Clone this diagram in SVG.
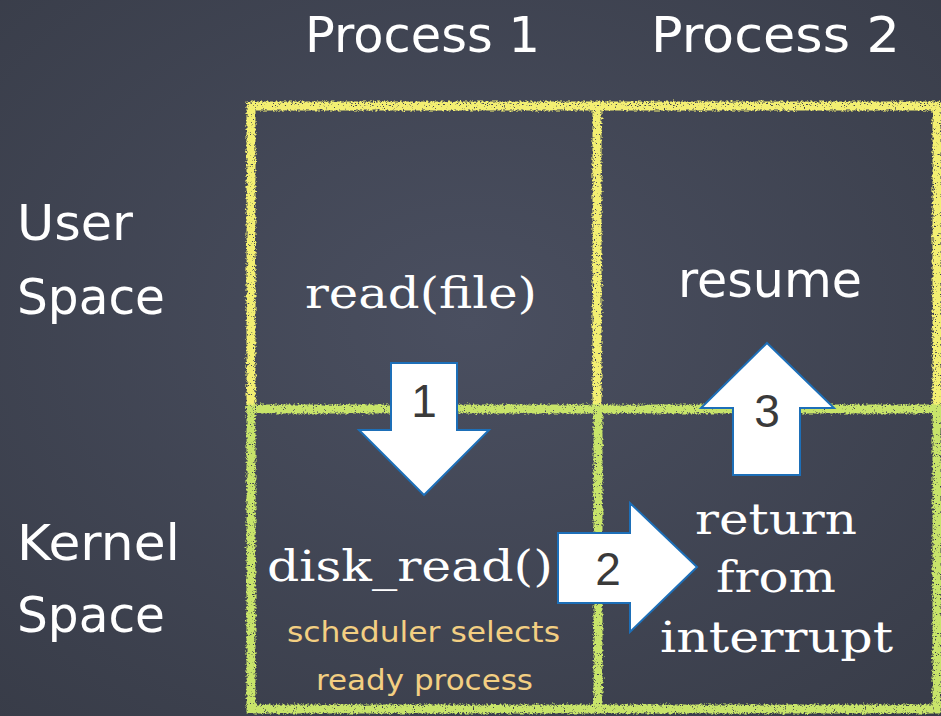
<svg xmlns="http://www.w3.org/2000/svg" width="941" height="716" viewBox="0 0 941 716">
<defs>
<radialGradient id="bg" cx="50%" cy="45%" r="75%">
<stop offset="0" stop-color="#4a4f60"/>
<stop offset="1" stop-color="#383c48"/>
</radialGradient>
<filter id="chalk" x="-5%" y="-5%" width="110%" height="110%">
<feTurbulence type="fractalNoise" baseFrequency="0.45" numOctaves="3" seed="3" result="n"/>
<feDisplacementMap in="SourceGraphic" in2="n" scale="5" xChannelSelector="R" yChannelSelector="G" result="d"/>
<feTurbulence type="fractalNoise" baseFrequency="0.9" numOctaves="1" seed="11" result="n2"/>
<feColorMatrix in="n2" type="matrix" values="0 0 0 0 0  0 0 0 0 0  0 0 0 0 0  12 0 0 0 -3.3" result="m"/>
<feComposite in="d" in2="m" operator="in"/>
</filter>
<style>
.yel{stroke:#f3ef72;stroke-width:9;fill:none;stroke-linecap:square}
.grn{stroke:#c8e46a;stroke-width:9;fill:none;stroke-linecap:square}
.hand{font-family:"DejaVu Sans","Noto Sans",sans-serif;fill:#ffffff;font-size:49px}
.slab{font-family:"DejaVu Serif","Liberation Serif",serif;fill:#ffffff;font-size:43px}
.note{font-family:"DejaVu Sans","Noto Sans",sans-serif;fill:#f3cf82;font-size:28px}
.arrow{fill:#ffffff;stroke:#1d6fb8;stroke-width:2;stroke-linejoin:miter}
.num{font-family:"Liberation Sans",Arial,sans-serif;fill:#3a3a3a;font-size:46px;text-anchor:middle}
</style>
</defs>
<rect width="941" height="716" fill="url(#bg)"/>

<g id="grid" filter="url(#chalk)">
<path class="yel" d="M251 409 V106 H937 V409 M597 106 V409"/>
<path class="grn" d="M251 409 H937 M251 409 V709 H937 V409 M598 409 V709"/>
</g>

<g id="headers">
<text class="hand" x="305" y="52" textLength="235" lengthAdjust="spacingAndGlyphs">Process 1</text>
<text class="hand" x="651" y="52" textLength="249" lengthAdjust="spacingAndGlyphs">Process 2</text>
<text class="hand" x="17" y="240" textLength="116" lengthAdjust="spacingAndGlyphs">User</text>
<text class="hand" x="17" y="314" textLength="148" lengthAdjust="spacingAndGlyphs">Space</text>
<text class="hand" x="17" y="560" textLength="163" lengthAdjust="spacingAndGlyphs">Kernel</text>
<text class="hand" x="17" y="632" textLength="148" lengthAdjust="spacingAndGlyphs">Space</text>
</g>

<g id="p1-user">
<text class="slab" x="305" y="308" textLength="232" lengthAdjust="spacingAndGlyphs">read(file)</text>
</g>
<g id="p2-user">
<text class="hand" x="678" y="297" textLength="184" lengthAdjust="spacingAndGlyphs">resume</text>
</g>
<g id="p1-kernel">
<text class="slab" x="267" y="581" textLength="286" lengthAdjust="spacingAndGlyphs">disk_read()</text>
<text class="note" x="287" y="642" textLength="273" lengthAdjust="spacingAndGlyphs">scheduler selects</text>
<text class="note" x="316" y="690" textLength="217" lengthAdjust="spacingAndGlyphs">ready process</text>
</g>
<g id="p2-kernel">
<text class="slab" x="695" y="534" textLength="162" lengthAdjust="spacingAndGlyphs">return</text>
<text class="slab" x="716" y="592" textLength="120" lengthAdjust="spacingAndGlyphs">from</text>
<text class="slab" x="660" y="652" textLength="233" lengthAdjust="spacingAndGlyphs">interrupt</text>
</g>

<g id="connectors">
<g id="arrow1">
<polygon class="arrow" points="391,363 457,363 457,430 489,430 424,495 359,430 391,430"/>
<text class="num" x="424" y="417">1</text>
</g>
<g id="arrow2">
<polygon class="arrow" points="558,533 630,533 630,503 697,567 630,632 630,603 558,603"/>
<text class="num" x="608" y="585">2</text>
</g>
<g id="arrow3">
<polygon class="arrow" points="767,343 834,408 800,408 800,475 733,475 733,408 701,408"/>
<text class="num" x="767" y="427">3</text>
</g>
</g>
</svg>
